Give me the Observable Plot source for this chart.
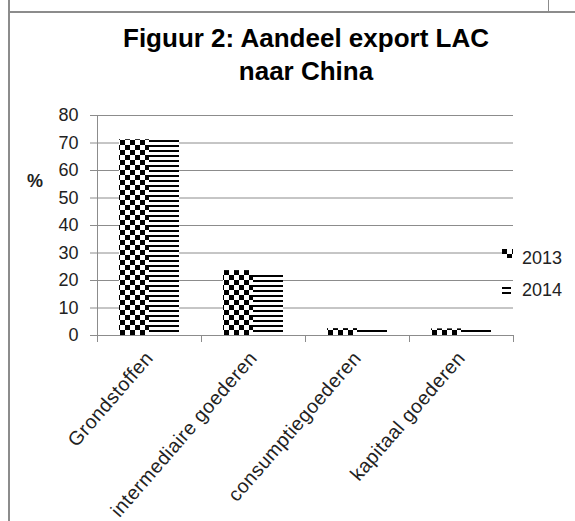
<!DOCTYPE html>
<html>
<head>
<meta charset="utf-8">
<script src="https://cdn.jsdelivr.net/npm/d3@7"></script>
<script src="https://cdn.jsdelivr.net/npm/@observablehq/plot@0.6"></script>
<style>
  html, body { margin: 0; padding: 0; background: #fff; overflow: hidden; }
  #wrap { position: relative; width: 575px; height: 521px; background: #fff; font-family: "Liberation Sans", Arial, sans-serif; overflow: hidden; }
  .line { position: absolute; background: #8c8c8c; }
  #title { position: absolute; left: 0; top: 22px; width: 612px; text-align: center; font-weight: bold; font-size: 26px; line-height: 33px; color: #000; }
  #ylab { position: absolute; left: 27px; top: 171px; font-weight: bold; font-size: 18px; color: #222; }
  #chart { position: absolute; left: 0; top: 0; }
  #chart g[aria-label="fx-axis tick label"] text { letter-spacing: 0.5px; }
  .leg { position: absolute; font-size: 18px; color: #222; line-height: 18px; }
  .key { position: absolute; }
</style>
</head>
<body>
<svg width="0" height="0" style="position:absolute">
  <defs>
    <pattern id="pat2013" patternUnits="userSpaceOnUse" width="10" height="10">
      <rect width="10" height="10" fill="#fff"/>
      <rect x="0" y="0" width="5" height="5" fill="#000"/>
      <rect x="5" y="5" width="5" height="5" fill="#000"/>
    </pattern>
    <pattern id="pat2014" patternUnits="userSpaceOnUse" width="5" height="5">
      <rect width="5" height="5" fill="#fff"/>
      <rect x="0" y="0" width="5" height="2" fill="#000"/>
    </pattern>
  </defs>
</svg>
<div id="wrap">
  <div class="line" style="left:8px;top:0;width:2px;height:521px"></div>
  <div class="line" style="left:8px;top:11px;width:567px;height:2px"></div>
  <div class="line" style="left:548px;top:0;width:1px;height:12px"></div>
  <div id="chart"></div>
  <div id="title"></div>
  <div id="ylab"></div>
  <div id="legend"></div>
</div>
<script>
const categories = ["Grondstoffen", "intermediaire goederen", "consumptiegoederen", "kapitaal goederen"];
const years = [2013, 2014];
const values2013 = [71.2, 23.6, 2.5, 2.4];
const values2014 = [70.9, 22.7, 2.0, 2.0];
const yTicks = [0, 10, 20, 30, 40, 50, 60, 70, 80];
const yLabel = "%";
const titleLines = ["Figuur 2: Aandeel export LAC", "naar China"];
const patterns = ["url(#pat2013)", "url(#pat2014)"];

const data = categories.flatMap((c, i) => [
  {cat: c, year: years[0], value: values2013[i]},
  {cat: c, year: years[1], value: values2014[i]}
]);

const gray = "#8c8c8c";
const plot = Plot.plot({
  width: 575,
  height: 521,
  marginLeft: 97,
  marginRight: 62,
  marginTop: 115,
  marginBottom: 186,
  style: {fontFamily: "'Liberation Sans', Arial, sans-serif", background: "transparent", overflow: "visible"},
  fx: {domain: categories, padding: 0, label: null},
  x: {domain: years, paddingInner: 0, paddingOuter: 0.7, axis: null},
  y: {domain: [0, 80]},
  color: {type: "ordinal", domain: years, range: patterns},
  marks: [
    Plot.gridY(yTicks, {stroke: gray, strokeOpacity: 1}),
    Plot.barY(data, {fx: "cat", x: "year", y: "value", fill: "year"}),
    Plot.ruleY([0], {stroke: gray}),
    Plot.axisY(yTicks, {tickSize: 7, tickPadding: 12, fontSize: 18, label: null, stroke: gray, fill: "#222"}),
    Plot.axisFx({anchor: "bottom", tickRotate: -49, tickSize: 0, tickPadding: 19, fontSize: 19.5, label: null, fill: "#222"})
  ]
});

// Excel-style axis line and category boundary ticks from the library scales
const fx = plot.scale("fx");
const ys = plot.scale("y");
const y0 = ys.apply(0), yTop = ys.apply(yTicks[yTicks.length - 1]);
const bounds = categories.map(c => fx.apply(c)).concat([fx.apply(categories[categories.length - 1]) + fx.bandwidth]);
const g = d3.select(plot).append("g").attr("stroke", gray).attr("shape-rendering", "crispEdges");
g.append("line").attr("x1", bounds[0]).attr("x2", bounds[0]).attr("y1", y0).attr("y2", yTop);
bounds.forEach(b => g.append("line").attr("x1", b).attr("x2", b).attr("y1", y0).attr("y2", y0 + 7));

document.getElementById("chart").appendChild(plot);
document.getElementById("title").innerHTML = titleLines.join("<br>");
document.getElementById("ylab").textContent = yLabel;

// legend
const legend = document.getElementById("legend");
const legPos = [{kx: 502, ky: 249, kw: 11, kh: 9, tx: 522, ty: 249}, {kx: 502, ky: 287, kw: 9, kh: 7, tx: 522, ty: 281}];
years.forEach((yr, i) => {
  const p = legPos[i];
  const k = document.createElementNS("http://www.w3.org/2000/svg", "svg");
  k.setAttribute("class", "key");
  k.setAttribute("width", p.kw); k.setAttribute("height", p.kh);
  k.style.left = p.kx + "px"; k.style.top = p.ky + "px";
  const r = document.createElementNS("http://www.w3.org/2000/svg", "rect");
  r.setAttribute("width", p.kw); r.setAttribute("height", p.kh); r.setAttribute("fill", patterns[i]);
  k.appendChild(r);
  legend.appendChild(k);
  const t = document.createElement("div");
  t.className = "leg"; t.style.left = p.tx + "px"; t.style.top = p.ty + "px";
  t.textContent = String(yr);
  legend.appendChild(t);
});
</script>
</body>
</html>
